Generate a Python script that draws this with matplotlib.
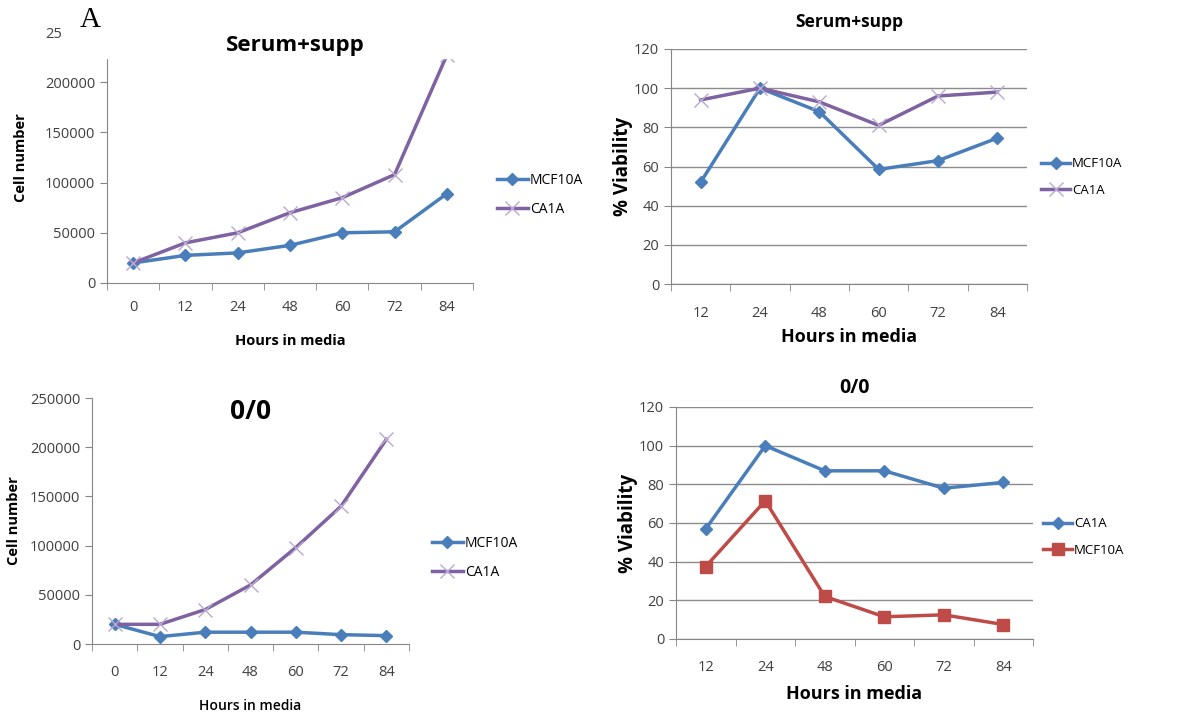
import numpy as np
import matplotlib.pyplot as plt
from matplotlib.patches import Rectangle

plt.rcParams['font.family'] = ['Open Sans', 'DejaVu Sans']
plt.rcParams['xtick.labelsize'] = 10.5
plt.rcParams['ytick.labelsize'] = 10.5

BLUE = '#4a7ebb'
PURPLE = '#7f62a1'
RED = '#be4b48'
AXIS = '#868686'

# cell number panels
hours_n = ['0', '12', '24', '48', '60', '72', '84']
supp_mcf = [20000, 27500, 30000, 37500, 50000, 51000, 89000]
supp_ca = [20000, 40000, 50000, 70000, 85000, 108000, 227000]
zero_mcf = [20000, 7500, 12000, 12000, 12000, 9500, 8500]
zero_ca = [20000, 20000, 35000, 60000, 98000, 140000, 208000]

# viability panels
hours_v = ['12', '24', '48', '60', '72', '84']
via_supp_mcf = [52, 100, 88, 58.5, 63, 74.5]
via_supp_ca = [94, 100, 93, 81, 96, 98]
via_zero_ca = [57, 100, 87, 87, 78, 81]
via_zero_mcf = [37.5, 71.5, 22, 11.5, 12.5, 7.5]

fig = plt.figure(figsize=(11.78, 7.15), dpi=100)


def px_axes(x0, y0, x1, y1):
    return fig.add_axes([x0 / 1178, 1 - y1 / 715, (x1 - x0) / 1178, (y1 - y0) / 715])


def style_cat(ax, labels, grid, pad=12):
    n = len(labels)
    x = np.arange(n)
    ax.set_xlim(-0.5, n - 0.5)
    ax.set_xticks(x)
    ax.set_xticklabels(labels)
    ax.set_xticks(np.arange(n + 1) - 0.5, minor=True)
    ax.tick_params(axis='x', which='major', length=0, pad=pad, colors='#404040')
    ax.tick_params(axis='x', which='minor', length=5, color=AXIS)
    ax.tick_params(axis='y', length=5, color=AXIS, colors='#404040')
    for s in ['top', 'right']:
        ax.spines[s].set_visible(False)
    for s in ['left', 'bottom']:
        ax.spines[s].set_color(AXIS)
    if grid:
        ax.yaxis.grid(True, color='#8c8c8c', lw=1)
        ax.set_axisbelow(True)
    return x


def series(ax, x, y, color, kind, label):
    if kind == 'D':
        ax.plot(x, y, color=color, lw=2.5, marker='D', ms=6.5, label=label)
    elif kind == 's':
        ax.plot(x, y, color=color, lw=2.5, marker='s', ms=9, label=label)
    else:
        ax.plot(x, y, color=color, lw=2.5, marker='x', ms=10, mew=1,
                mec='#b9a8d0', label=label)


def legend(ax, x, y, size):
    ax.legend(loc='center left', bbox_to_anchor=(x / 1178, 1 - y / 715),
              bbox_transform=fig.transFigure, frameon=False, fontsize=size,
              handlelength=2.2, handletextpad=0.15, labelspacing=1.0,
              borderaxespad=0, borderpad=0)


# top-left
ax1 = px_axes(107, 32, 473, 283)
x = style_cat(ax1, hours_n, False)
series(ax1, x, supp_mcf, BLUE, 'D', 'MCF10A')
series(ax1, x, supp_ca, PURPLE, 'x', 'CA1A')
ax1.set_ylim(0, 250000)
ax1.set_yticks(np.arange(0, 250001, 50000))
ax1.set_xlabel('Hours in media', fontsize=10.5, fontweight='bold', labelpad=14)
ax1.set_ylabel('Cell number', fontsize=10.5, fontweight='bold', labelpad=12)
legend(ax1, 497, 195, 10)

# white cover over the top of the first panel, as in the source figure
fig.patches.append(Rectangle((62 / 1178, 1 - 58 / 715), 420 / 1178, 58 / 715,
                             transform=fig.transFigure, color='white', zorder=5))
fig.text(80 / 1178, 1 - 20 / 715, 'A', family='Liberation Serif', fontsize=21,
         va='center', ha='left', zorder=6)
fig.text(295 / 1178, 1 - 46 / 715, 'Serum+supp', fontsize=16, fontweight='bold',
         ha='center', va='center', zorder=6)

# bottom-left
ax2 = px_axes(92, 398, 409, 644)
x = style_cat(ax2, hours_n, False, pad=15)
series(ax2, x, zero_mcf, BLUE, 'D', 'MCF10A')
series(ax2, x, zero_ca, PURPLE, 'x', 'CA1A')
ax2.set_ylim(0, 250000)
ax2.set_yticks(np.arange(0, 250001, 50000))
ax2.set_xlabel('Hours in media', fontsize=10, fontweight='semibold', labelpad=14)
ax2.set_ylabel('Cell number', fontsize=10.5, fontweight='bold', labelpad=6)
ax2.set_title('0/0', fontsize=19, fontweight='bold', y=0.88)
legend(ax2, 432, 558, 10)

# top-right
ax3 = px_axes(671, 49, 1027, 284)
x = style_cat(ax3, hours_v, True, pad=16)
series(ax3, x, via_supp_mcf, BLUE, 'D', 'MCF10A')
series(ax3, x, via_supp_ca, PURPLE, 'x', 'CA1A')
ax3.set_ylim(0, 120)
ax3.set_yticks(np.arange(0, 121, 20))
ax3.set_xlabel('Hours in media', fontsize=13, fontweight='bold', labelpad=5)
ax3.set_ylabel('% Viability', fontsize=13.5, fontweight='bold', labelpad=1)
ax3.set_title('Serum+supp', fontsize=12.5, fontweight='bold', pad=16)
legend(ax3, 1041, 177, 9.5)

# bottom-right
ax4 = px_axes(676, 407, 1033, 639)
x = style_cat(ax4, hours_v, True, pad=15)
series(ax4, x, via_zero_ca, BLUE, 'D', 'CA1A')
series(ax4, x, via_zero_mcf, RED, 's', 'MCF10A')
ax4.set_ylim(0, 120)
ax4.set_yticks(np.arange(0, 121, 20))
ax4.set_xlabel('Hours in media', fontsize=13, fontweight='bold', labelpad=7)
ax4.set_ylabel('% Viability', fontsize=13.5, fontweight='bold', labelpad=1)
ax4.set_title('0/0', fontsize=14, fontweight='bold', pad=10)
legend(ax4, 1043, 537, 9.5)

plt.savefig('out.png', dpi=100)
